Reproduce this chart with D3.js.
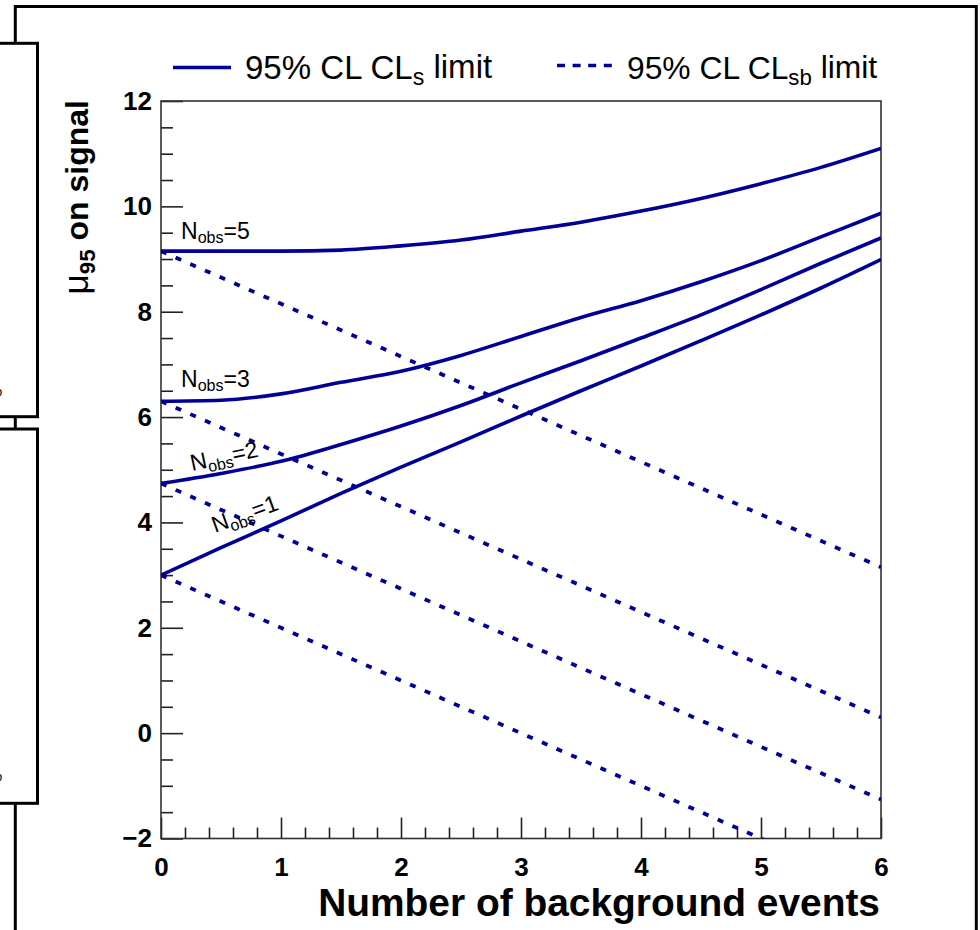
<!DOCTYPE html>
<html><head><meta charset="utf-8">
<script src="https://cdn.jsdelivr.net/npm/d3@7"></script>
<style>html,body{margin:0;padding:0;background:#fff;overflow:hidden}svg{display:block}</style>
</head><body>
<svg id="c" width="980" height="930"></svg>
<script>
// ---- data ----
const bgEvents = [0, 0.5, 1, 1.5, 2, 2.5, 3, 3.5, 4, 4.5, 5, 5.5, 6];
const nobsLabels = ["1", "2", "3", "5"];
const clsN1 = [3.00, 3.52, 4.03, 4.55, 5.05, 5.53, 6.02, 6.50, 6.97, 7.45, 7.94, 8.45, 8.99];
const clsN2 = [4.74, 4.93, 5.16, 5.48, 5.83, 6.22, 6.65, 7.07, 7.50, 7.94, 8.42, 8.92, 9.40];
const clsN3 = [6.30, 6.32, 6.44, 6.66, 6.87, 7.17, 7.53, 7.89, 8.21, 8.57, 8.97, 9.42, 9.87];
const clsN5 = [9.15, 9.15, 9.15, 9.17, 9.25, 9.36, 9.53, 9.70, 9.91, 10.15, 10.43, 10.74, 11.10];
const sbEvents = [0, 1, 2, 3, 4, 5, 6];
const clsbN1 = [3.00, 2.00, 1.00, 0.00, -1.00, -2.00, -3.00];
const clsbN2 = [4.74, 3.74, 2.74, 1.74, 0.74, -0.26, -1.26];
const clsbN3 = [6.30, 5.30, 4.30, 3.30, 2.30, 1.30, 0.30];
const clsbN5 = [9.15, 8.15, 7.15, 6.15, 5.15, 4.15, 3.15];
const xTicks = [0, 1, 2, 3, 4, 5, 6];
const yTicks = [-2, 0, 2, 4, 6, 8, 10, 12];
const legendLabels = [["95% CL CL", "s", " limit"], ["95% CL CL", "sb", " limit"]];
const axisTitleX = "Number of background events";
const axisTitleY = ["\u03BC", "95", " on signal"];

// ---- setup ----
const FONT = "'Liberation Sans', Arial, Helvetica, sans-serif";
const BLUE = "#000099";
const svg = d3.select("#c");
const L = 161, R = 881, T = 101, B = 838.5;
const x = d3.scaleLinear().domain([0, 6]).range([L, R]);
const y = d3.scaleLinear().domain([-2, 12]).range([B, T]);

function fitWidth(sel, target) {
  const w = sel.node().getBBox().width;
  const fs = parseFloat(sel.attr("font-size"));
  sel.attr("font-size", fs * target / w);
}

// ---- outer canvas frames ----
svg.append("rect").attr("x", 15.3).attr("y", 6.5).attr("width", 961).attr("height", 960)
  .attr("fill", "#fff").attr("stroke", "#000").attr("stroke-width", 3);
[[43.3, 416.7], [429, 803.3]].forEach(([a, b]) => {
  svg.append("rect").attr("x", -20).attr("y", a).attr("width", 57.5).attr("height", b - a)
    .attr("fill", "#fff").attr("stroke", "#000").attr("stroke-width", 3);
});
[396, 781].forEach(yy => svg.append("text").attr("x", -5).attr("y", yy).attr("font-family", FONT)
  .attr("font-size", 13).attr("fill", "#000").text("o"));

// ---- clip ----
svg.append("defs").append("clipPath").attr("id", "plotclip")
  .append("rect").attr("x", L).attr("y", T).attr("width", R - L).attr("height", B - T);

// ---- axes ----
const yMinor = d3.range(-2, 12.01, 0.5).filter(v => Math.abs(v / 2 - Math.round(v / 2)) > 1e-6);
const xMinor = d3.range(0, 6.01, 0.2).filter(v => Math.abs(v - Math.round(v)) > 1e-6);

const gy = svg.append("g").attr("transform", `translate(${L},0)`)
  .call(d3.axisLeft(y).tickValues(yTicks).tickSize(-22).tickPadding(9));
const gym = svg.append("g").attr("transform", `translate(${L},0)`)
  .call(d3.axisLeft(y).tickValues(yMinor).tickSize(-12).tickFormat(""));
const gx = svg.append("g").attr("transform", `translate(0,${B})`)
  .call(d3.axisBottom(x).tickValues(xTicks).tickSize(-21).tickPadding(19).tickFormat(d3.format("d")));
const gxm = svg.append("g").attr("transform", `translate(0,${B})`)
  .call(d3.axisBottom(x).tickValues(xMinor).tickSize(-11).tickFormat(""));
[gy, gym, gx, gxm].forEach(g => {
  g.select(".domain").remove();
  g.selectAll(".tick line").attr("stroke", "#222").attr("stroke-width", 1.6);
  g.selectAll("text").attr("font-family", FONT).attr("font-weight", "bold")
    .attr("font-size", 26).attr("fill", "#000");
});

// frame
svg.append("rect").attr("x", L).attr("y", T).attr("width", R - L).attr("height", B - T)
  .attr("fill", "none").attr("stroke", "#333").attr("stroke-width", 1.6);

// ---- curves ----
const plot = svg.append("g").attr("clip-path", "url(#plotclip)");
const solidLine = d3.line().x(d => x(d[0])).y(d => y(d[1])).curve(d3.curveMonotoneX);
const dashLine = d3.line().x(d => x(d[0])).y(d => y(d[1]));
const clsSeries = [clsN1, clsN2, clsN3, clsN5];
const clsbSeries = [clsbN1, clsbN2, clsbN3, clsbN5];
clsbSeries.forEach(s => {
  plot.append("path").datum(sbEvents.map((b, i) => [b, s[i]])).attr("d", dashLine)
    .attr("fill", "none").attr("stroke", BLUE).attr("stroke-width", 3.8)
    .attr("stroke-dasharray", "6,10");
});
clsSeries.forEach(s => {
  plot.append("path").datum(bgEvents.map((b, i) => [b, s[i]])).attr("d", solidLine)
    .attr("fill", "none").attr("stroke", BLUE).attr("stroke-width", 3.6);
});

// ---- curve labels ----
const labelPos = [[215, 533, -20], [192, 471, -12], [181, 386.5, 0], [181, 238.5, 0]];
nobsLabels.forEach((n, i) => {
  const [lx, ly, rot] = labelPos[i];
  const t = svg.append("text").attr("transform", `translate(${lx},${ly}) rotate(${rot})`)
    .attr("font-family", FONT).attr("font-size", 23).attr("fill", "#000");
  t.append("tspan").text("N");
  t.append("tspan").attr("font-size", "0.7em").attr("dy", "0.3em").text("obs");
  t.append("tspan").attr("dy", "-0.21em").text("=" + n);
});

// ---- legend ----
const legendItems = [
  { x0: 173, x1: 231, ly: 67.5, tx: 245, tw: 248, dash: null },
  { x0: 557, x1: 612, ly: 65.5, tx: 627, tw: 251, dash: "8,7.6" }
];
legendItems.forEach((it, i) => {
  const ln = svg.append("line").attr("x1", it.x0).attr("x2", it.x1).attr("y1", it.ly).attr("y2", it.ly)
    .attr("stroke", BLUE).attr("stroke-width", 3.6);
  if (it.dash) ln.attr("stroke-dasharray", it.dash);
  const t = svg.append("text").attr("x", it.tx).attr("y", 78.5)
    .attr("font-family", FONT).attr("font-size", 30).attr("fill", "#000");
  const parts = legendLabels[i];
  t.append("tspan").text(parts[0]);
  t.append("tspan").attr("font-size", "0.7em").attr("dy", "0.28em").text(parts[1]);
  t.append("tspan").attr("dy", "-0.2em").text(parts[2]);
  fitWidth(t, it.tw);
});

// ---- axis titles ----
const xt = svg.append("text").attr("x", R - 1).attr("y", 916).attr("text-anchor", "end")
  .attr("font-family", FONT).attr("font-weight", "bold").attr("font-size", 36)
  .attr("fill", "#000").text(axisTitleX);
fitWidth(xt, 562);

const yt = svg.append("text").attr("transform", `translate(88,100) rotate(-90)`)
  .attr("text-anchor", "end").attr("font-family", FONT).attr("font-size", 32).attr("fill", "#000");
yt.append("tspan").attr("font-weight", "normal").attr("font-size", "1.1em").text(axisTitleY[0]);
yt.append("tspan").attr("font-weight", "bold").attr("font-size", "0.7em").attr("dy", "0.3em").text(axisTitleY[1]);
yt.append("tspan").attr("font-weight", "bold").attr("dy", "-0.21em").text(axisTitleY[2]);
</script>
</body></html>
